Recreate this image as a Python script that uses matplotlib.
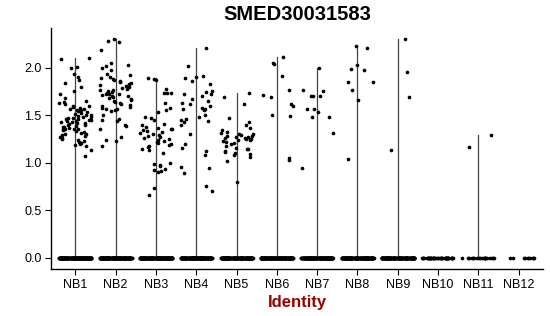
import numpy as np
import matplotlib
matplotlib.use("Agg")
import matplotlib.pyplot as plt

plt.rcParams["font.family"] = ["Liberation Sans", "DejaVu Sans"]

groups = ["NB1", "NB2", "NB3", "NB4", "NB5", "NB6",
          "NB7", "NB8", "NB9", "NB10", "NB11", "NB12"]

# non-zero expression per identity
nb1 = [2.10, 2.09, 2.01, 2.00, 1.93, 1.87, 1.84, 1.80, 1.75, 1.72, 1.68, 1.65,
       1.63, 1.62, 1.60, 1.60, 1.59, 1.58, 1.57, 1.56, 1.55, 1.55, 1.54, 1.53,
       1.52, 1.51, 1.50, 1.50, 1.49, 1.48, 1.48, 1.47, 1.47, 1.46, 1.46, 1.45,
       1.45, 1.44, 1.44, 1.43, 1.43, 1.42, 1.42, 1.41, 1.40, 1.40, 1.39, 1.38,
       1.38, 1.37, 1.36, 1.36, 1.35, 1.35, 1.34, 1.33, 1.32, 1.31, 1.30, 1.30,
       1.29, 1.28, 1.27, 1.26, 1.25, 1.24, 1.23, 1.22, 1.21, 1.20, 1.19, 1.18,
       1.13, 1.07, 1.90, 1.64]
nb2 = [2.30, 2.28, 2.27, 2.19, 2.05, 2.03, 2.02, 2.00, 1.97, 1.93, 1.92, 1.90,
       1.89, 1.88, 1.87, 1.86, 1.85, 1.84, 1.83, 1.82, 1.81, 1.80, 1.79, 1.78,
       1.77, 1.76, 1.75, 1.74, 1.73, 1.72, 1.72, 1.72, 1.71, 1.70, 1.70, 1.69,
       1.68, 1.67, 1.66, 1.65, 1.64, 1.63, 1.62, 1.61, 1.60, 1.59, 1.58, 1.57,
       1.56, 1.55, 1.54, 1.50, 1.46, 1.45, 1.44, 1.40, 1.39, 1.35, 1.27, 1.24,
       1.23, 1.18]
nb3 = [1.89, 1.88, 1.87, 1.78, 1.73, 1.73, 1.73, 1.63, 1.58, 1.55, 1.53, 1.48,
       1.47, 1.45, 1.41, 1.40, 1.38, 1.37, 1.36, 1.35, 1.34, 1.33, 1.32, 1.31,
       1.30, 1.29, 1.28, 1.27, 1.26, 1.25, 1.24, 1.23, 1.22, 1.21, 1.20, 1.19,
       1.18, 1.17, 1.15, 1.13, 1.10, 1.00, 0.99, 0.98, 0.97, 0.93, 0.92, 0.91,
       0.90, 0.73, 0.66]
nb4 = [2.21, 2.02, 1.91, 1.90, 1.89, 1.86, 1.83, 1.75, 1.74, 1.72, 1.72, 1.70,
       1.67, 1.65, 1.63, 1.62, 1.60, 1.58, 1.57, 1.56, 1.55, 1.50, 1.48, 1.46,
       1.45, 1.44, 1.43, 1.40, 1.30, 1.20, 1.16, 1.12, 1.08, 0.96, 0.95, 0.89,
       0.76, 0.70]
nb5 = [1.73, 1.69, 1.62, 1.47, 1.43, 1.40, 1.37, 1.34, 1.32, 1.31, 1.30, 1.30,
       1.29, 1.28, 1.28, 1.27, 1.27, 1.26, 1.26, 1.25, 1.25, 1.24, 1.24, 1.23,
       1.22, 1.21, 1.20, 1.18, 1.16, 1.15, 1.14, 1.12, 1.11, 1.10, 1.09, 1.08,
       1.06, 1.02, 0.80]
nb6 = [2.11, 2.05, 2.04, 1.91, 1.76, 1.71, 1.69, 1.62, 1.60, 1.50, 1.49,
       1.05, 1.03]
nb7 = [2.00, 1.76, 1.75, 1.70, 1.70, 1.70, 1.57, 1.57, 1.53, 1.48, 1.48,
       1.31, 0.95]
nb8 = [2.23, 2.21, 2.03, 1.99, 1.98, 1.85, 1.85, 1.76, 1.66, 1.04]
nb9 = [2.30, 1.95, 1.69, 1.13]
nb10 = []
nb11 = [1.29, 1.17]
nb12 = []
nonzero = [nb1, nb2, nb3, nb4, nb5, nb6, nb7, nb8, nb9, nb10, nb11, nb12]

# cells with zero expression per identity
zero_counts = [180, 180, 180, 180, 160, 160, 160, 160, 150, 45, 20, 10]


def jitter(n, seed, width=0.4):
    # deterministic hash-style spread instead of random jitter
    i = np.arange(n) + 1.0 + seed * 97.0
    u = np.modf(np.abs(np.sin(i * 12.9898 + seed * 78.233)) * 43758.5453)[0]
    return (u - 0.5) * 2 * width


fig = plt.figure(figsize=(5.5, 3.16), dpi=100)
ax = fig.add_axes([0.093, 0.149, 0.894, 0.762])

pos = np.arange(1, len(groups) + 1)
for k, (p, vals, nz) in enumerate(zip(pos, nonzero, zero_counts)):
    allv = np.array(list(vals) + [0.0] * nz)
    top = allv.max()
    if top > 0:
        ax.plot([p, p], [0, top], color="#444444", lw=0.9, zorder=1)
    xs = p + jitter(len(allv), k)
    ax.scatter(xs, allv, s=7, color="black", linewidths=0, zorder=2)

ax.set_xlim(0.4, 12.6)
ax.set_ylim(-0.115, 2.415)
ax.set_xticks(pos)
ax.set_xticklabels(groups)
ax.set_yticks([0.0, 0.5, 1.0, 1.5, 2.0])
ax.set_yticklabels(["0.0", "0.5", "1.0", "1.5", "2.0"])
ax.tick_params(labelsize=9, length=4, width=0.8, colors="black", pad=3)
for s in ["top", "right"]:
    ax.spines[s].set_visible(False)
for s in ["left", "bottom"]:
    ax.spines[s].set_linewidth(1.0)

ax.set_title("SMED30031583", fontsize=14.5, fontweight="bold", pad=6)
ax.set_xlabel("Identity", fontsize=12, fontweight="bold", color="#990000",
              labelpad=3)

fig.savefig("out.png", dpi=100)
